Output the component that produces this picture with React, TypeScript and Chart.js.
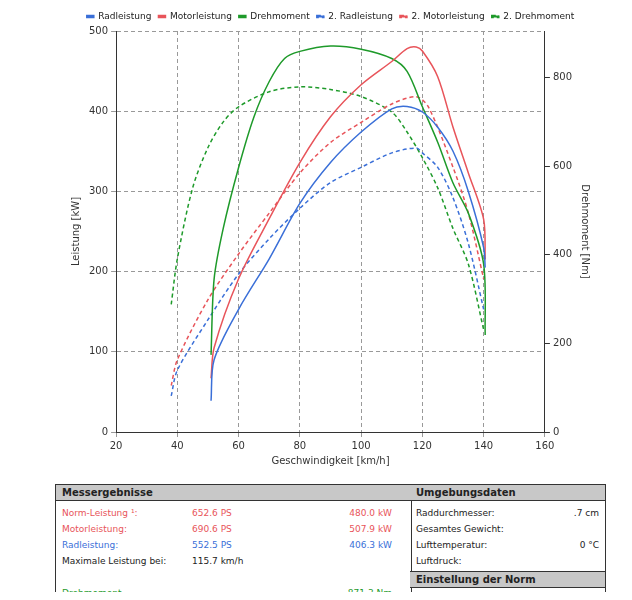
import React, { useEffect, useRef } from "react";
import { Chart, registerables } from "chart.js";
Chart.register(...registerables);

const radX = [51, 52, 60, 70, 80, 90, 100, 110, 115, 120, 125, 130, 135, 140, 140.5];
const radY = [39, 90, 153, 216, 285, 336, 374, 403, 406, 399, 380, 350, 300, 230, 205];
const motX = [51, 52, 60, 70, 80, 90, 100, 110, 115, 118, 120, 125, 130, 135, 140, 140.5];
const motY = [67, 105, 191, 266, 336, 393, 433, 462, 478, 480, 475, 443, 380, 323, 265, 215];
const drX = [51, 52, 55, 60, 65, 70, 75, 80, 90, 100, 110, 115, 120, 125, 130, 135, 140, 140.5];
const drY = [174, 345, 460, 597, 711, 791, 843, 859, 871, 864, 843, 814, 734, 654, 562, 494, 379, 219];
const rad2X = [38, 40, 50, 60, 70, 80, 90, 100, 110, 118, 120, 125, 130, 135, 140];
const rad2Y = [45, 77, 140, 197, 241, 279, 311, 330, 348, 354, 348, 330, 292, 235, 153];
const mot2X = [38, 40, 50, 60, 70, 80, 90, 100, 110, 118, 122, 130, 135, 140];
const mot2Y = [58, 90, 165, 222, 273, 323, 361, 386, 409, 418, 405, 330, 273, 191];
const dr2X = [38, 40, 45, 50, 55, 60, 70, 80, 90, 100, 110, 115, 120, 125, 130, 135, 140];
const dr2Y = [288, 391, 551, 642, 700, 734, 768, 779, 773, 757, 722, 677, 619, 551, 459, 379, 231];

const BLUE = "#3a6fd8";
const RED = "#e8545a";
const GREEN = "#1e9a2a";

const pts = (xs: number[], ys: number[]) => xs.map((x, i) => ({ x, y: ys[i] }));

const font = "DejaVu Sans";

export default function App() {
  const ref = useRef<HTMLCanvasElement>(null);
  useEffect(() => {
    const mk = (label: string, xs: number[], ys: number[], color: string, dashed: boolean, axis: string) => ({
      label, data: pts(xs, ys), borderColor: color, backgroundColor: color, borderWidth: 1.5,
      borderDash: dashed ? [4, 3] : [], pointRadius: 0, tension: 0.3, yAxisID: axis, fill: false,
    });
    const c = new Chart(ref.current!, {
      type: "line",
      data: {
        datasets: [
          mk("Radleistung", radX, radY, BLUE, false, "y"),
          mk("Motorleistung", motX, motY, RED, false, "y"),
          mk("Drehmoment", drX, drY, GREEN, false, "y1"),
          mk("2. Radleistung", rad2X, rad2Y, BLUE, true, "y"),
          mk("2. Motorleistung", mot2X, mot2Y, RED, true, "y"),
          mk("2. Drehmoment", dr2X, dr2Y, GREEN, true, "y1"),
        ] as any,
      },
      options: {
        animation: false, responsive: false,
        plugins: {
          legend: {
            labels: { boxWidth: 7, boxHeight: 2, padding: 7, color: "#222", font: { family: font, size: 9 } },
          },
          tooltip: { enabled: false },
        },
        scales: {
          x: {
            type: "linear", min: 20, max: 160,
            ticks: { stepSize: 20, color: "#333", font: { family: font, size: 10 } },
            grid: { color: "#999", tickLength: 5 },
            border: { dash: [4, 3], color: "#333" },
            title: { display: true, text: "Geschwindigkeit [km/h]", color: "#333", font: { family: font, size: 10 }, padding: 0 },
          },
          y: {
            min: 0, max: 500,
            ticks: { stepSize: 100, color: "#333", font: { family: font, size: 10 } },
            grid: { color: "#999", tickLength: 5 },
            border: { dash: [4, 3], color: "#333" },
            title: { display: true, text: "Leistung [kW]", color: "#333", font: { family: font, size: 10 } },
          },
          y1: {
            position: "right", min: 0, max: 905,
            afterBuildTicks: (s: any) => { s.ticks = [0, 200, 400, 600, 800].map((v) => ({ value: v })); },
            ticks: { color: "#333", font: { family: font, size: 10 } },
            grid: { drawOnChartArea: false, tickLength: 5, color: "#333" },
            border: { color: "#333" },
            title: { display: true, text: "Drehmoment [Nm]", color: "#333", font: { family: font, size: 10 } },
          },
        },
      } as any,
    });
    return () => c.destroy();
  }, []);

  const t: React.CSSProperties = { fontFamily: font, fontSize: 9, color: "#222" };
  const hdr: React.CSSProperties = { background: "#c8c8c8", fontWeight: "bold", fontSize: 10, padding: "2px 6px", borderTop: "1px solid #333", borderBottom: "1px solid #333" };
  const row = (cells: [string, string, string], color: string, top: number) => (
    <div style={{ position: "absolute", left: 6, top, width: 340, color, display: "flex" }}>
      <span style={{ width: 130 }}>{cells[0]}</span>
      <span style={{ width: 130 }}>{cells[1]}</span>
      <span style={{ width: 70, textAlign: "right" }}>{cells[2]}</span>
    </div>
  );
  return (
    <div style={{ position: "relative", width: 632, height: 600, margin: -8, background: "#fff", overflow: "hidden" }}>
      <div style={{ position: "absolute", left: 0, top: 0, width: 628, height: 600, borderLeft: "3px solid #444", borderRight: "2px solid #444", borderTop: "2px solid #666", boxSizing: "border-box" }} />
      <canvas ref={ref} width={529} height={462} style={{ position: "absolute", left: 66, top: 5 }} />
      <div style={{ ...t, position: "absolute", left: 55, top: 484, width: 355, height: 116, borderLeft: "1px solid #333", borderRight: "1px solid #333" }}>
        <div style={hdr}>Messergebnisse</div>
        {row(["Norm-Leistung ¹:", "652.6 PS", "480.0 kW"], RED, 24)}
        {row(["Motorleistung:", "690.6 PS", "507.9 kW"], RED, 40)}
        {row(["Radleistung:", "552.5 PS", "406.3 kW"], BLUE, 56)}
        {row(["Maximale Leistung bei:", "115.7 km/h", ""], "#222", 72)}
        {row(["Drehmoment", "", "871.3 Nm"], GREEN, 104)}
      </div>
      <div style={{ ...t, position: "absolute", left: 410, top: 484, width: 195, height: 116, borderRight: "1px solid #333" }}>
        <div style={hdr}>Umgebungsdaten</div>
        {[["Raddurchmesser:", ".7 cm"], ["Gesamtes Gewicht:", ""], ["Lufttemperatur:", "0 °C"], ["Luftdruck:", ""]].map((r, i) => (
          <div key={i} style={{ position: "absolute", left: 6, top: 24 + i * 16, width: 183, display: "flex", justifyContent: "space-between" }}>
            <span>{r[0]}</span><span>{r[1]}</span>
          </div>
        ))}
        <div style={{ ...hdr, position: "absolute", top: 87, left: 0, right: 0 }}>Einstellung der Norm</div>
        <div style={{ position: "absolute", left: 6, top: 108, width: 183, display: "flex", justifyContent: "space-between" }}>
          <span>¹Korrektur nach:</span><span>EWG 80/1269</span>
        </div>
      </div>
    </div>
  );
}
